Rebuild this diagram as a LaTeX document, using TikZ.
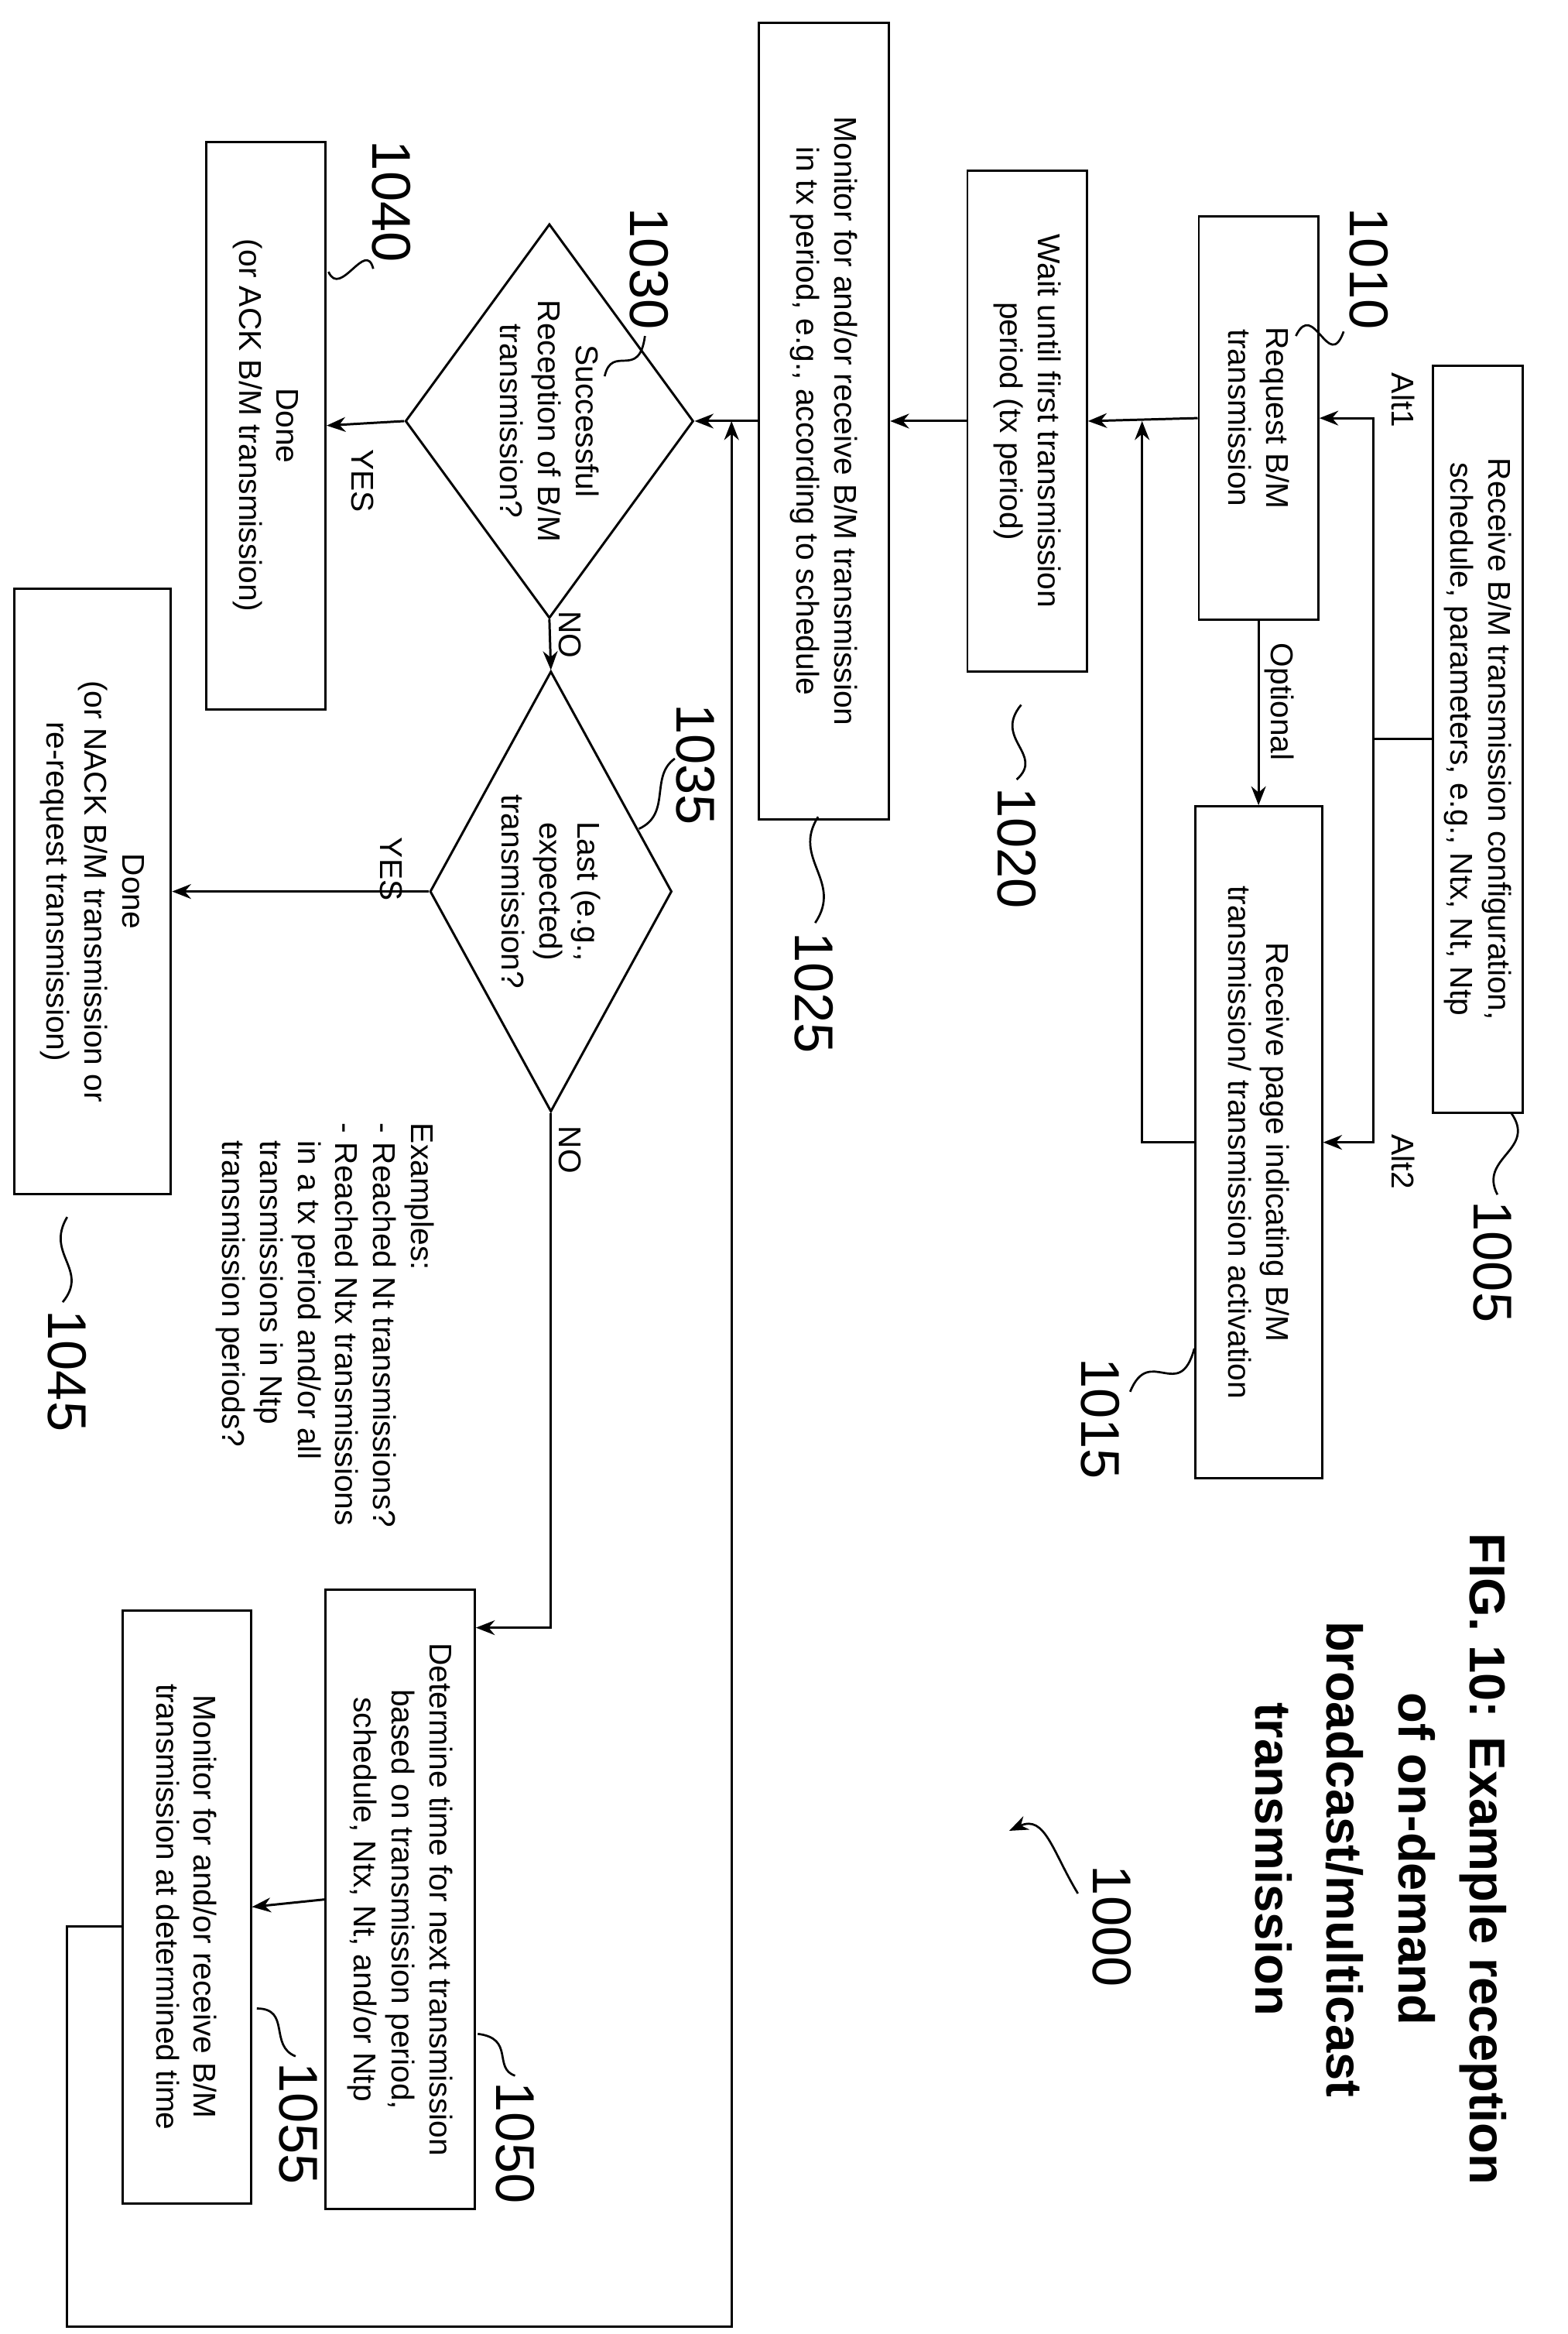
\documentclass[tikz,border=0pt]{standalone}
\usepackage{fontspec}
\setmainfont{Liberation Sans}
\usetikzlibrary{shapes.geometric,arrows.meta}
\begin{document}
\begin{tikzpicture}[x=0.025cm,y=-0.025cm,line width=1.1pt,
  >={Stealth[length=9pt,width=7pt]},
  bx/.style 2 args={draw, rotate=-90, minimum width=#1*0.025cm, minimum height=#2*0.025cm, align=center, inner sep=2pt, font=\fontsize{15}{18}\selectfont},
  dm/.style 2 args={draw, diamond, rotate=-90, minimum width=#1*0.025cm, minimum height=#2*0.025cm, inner sep=0pt},
  txt/.style={rotate=-90, align=center, inner sep=1pt, font=\fontsize{15}{18}\selectfont},
  ref/.style={rotate=-90, inner sep=1pt, font=\fontsize{26}{30}\selectfont},
  lead/.style={line width=1pt}]
\useasboundingbox (0,0) rectangle (1050,1563);
% boxes
\node[bx={500}{60}] (n1005) at (990,495) {Receive B/M transmission configuration,\\schedule, parameters, e.g., Ntx, Nt, Ntp};
\node[bx={270}{80}] (n1010) at (843,280) {Request B/M\\transmission};
\node[bx={450}{85}] (n1015) at (843,765) {Receive page indicating B/M\\transmission/ transmission activation};
\node[bx={335}{80}] (n1020) at (688,282) {Wait until first transmission\\period (tx period)};
\node[bx={533}{87}] (n1025) at (552,282) {Monitor for and/or receive B/M transmission\\in tx period, e.g., according to schedule};
\node[dm={264}{193}] (d1030) at (368,282) {};
\node[txt] at (d1030.center) {Successful\\Reception of B/M\\transmission?};
\node[bx={380}{80}] (n1040) at (178,285) {Done\\(or ACK B/M transmission)};
\node[dm={295}{162}] (d1035) at (369,597) {};
\node[txt] at (d1035.center) {Last (e.g.,\\expected)\\transmission?};
\node[txt, align=left, anchor=north west] (ex) at (293,750) {Examples:\\- Reached Nt transmissions?\\- Reached Ntx transmissions\\\ \ in a tx period and/or all\\\ \ transmissions in Ntp\\\ \ transmission periods?};
\node[bx={405}{105}] (n1045) at (62,597) {Done\\(or NACK B/M transmission or\\re-request transmission)};
\node[bx={415}{100}] (n1050) at (268,1272) {Determine time for next transmission\\based on transmission period,\\schedule, Ntx, Nt, and/or Ntp};
\node[bx={397}{86}] (n1055) at (125,1277) {Monitor for and/or receive B/M\\transmission at determined time};
% title
\node[rotate=-90, align=center, font=\fontsize{24}{34}\bfseries\selectfont] (title) at (925,1245) {FIG. 10: Example reception\\of on-demand\\broadcast/multicast\\transmission};
% connectors
\coordinate (j) at (920,495);
\draw (n1005.south) -- (j);
\draw[->] (j) |- (n1010.north);
\draw[->] (j) |- (n1015.north);
\node[txt] at (940,268) {Alt1};
\node[txt] at (940,778) {Alt2};
\draw[->] (n1010.east) -- (n1015.west);
\node[txt] at (857,470) {Optional};
\coordinate (m1) at (765,765);
\coordinate (m2) at (765,282);
\draw[->] (n1015.south) -- (m1) -- (m2);
\draw[->] (n1010.south) -- (n1020.north);
\draw[->] (n1020.south) -- (n1025.north);
\draw[->] (n1025.south) -- (d1030.north);
\draw[->] (d1030.south) -- (n1040.north);
\node[txt] at (243,322) {YES};
\draw[->] (d1030.east) -- (d1035.west);
\node[txt] at (382,425) {NO};
\draw[->] (d1035.south) -- (n1045.north);
\node[txt] at (262,582) {YES};
\coordinate (c1) at (369,1090);
\draw[->] (d1035.east) -- (c1) -- (n1050.north |- c1);
\node[txt] at (382,770) {NO};
\draw[->] (n1050.south) -- (n1055.north);
\coordinate (k1) at (45,1290);
\coordinate (k2) at (45,1558);
\coordinate (k3) at (490,1558);
\coordinate (k4) at (490,282);
\draw[->] (n1055.south |- k1) -- (k1) -- (k2) -- (k3) -- (k4);
% reference labels
\node[ref] (r1000) at (745,1290) {1000};
\draw[lead,->] (722,1268) .. controls (705,1240) and (700,1215) .. (676,1226);
\node[ref] (r1005) at (1000,845) {1005};
\draw[lead] (1012,745) .. controls (1030,770) and (990,775) .. (1003,800);
\node[ref] (r1010) at (917,180) {1010};
\draw[lead] (900,222) .. controls (890,250) and (880,200) .. (868,225);
\node[ref] (r1015) at (737,950) {1015};
\draw[lead] (800,903) .. controls (790,940) and (770,900) .. (757,932);
\node[ref] (r1020) at (681,568) {1020};
\draw[lead] (684,472) .. controls (665,495) and (700,505) .. (681,522);
\node[ref] (r1025) at (545,665) {1025};
\draw[lead] (548,547) .. controls (530,575) and (565,590) .. (546,618);
\node[ref] (r1030) at (435,180) {1030};
\draw[lead] (432,225) .. controls (428,255) and (410,230) .. (405,252);
\node[ref] (r1035) at (466,512) {1035};
\draw[lead] (452,508) .. controls (435,520) and (450,545) .. (428,555);
\node[ref] (r1040) at (262,135) {1040};
\draw[lead] (250,180) .. controls (245,160) and (228,200) .. (220,182);
\node[ref] (r1045) at (45,918) {1045};
\draw[lead] (45,815) .. controls (30,840) and (60,850) .. (42,872);
\node[ref] (r1050) at (345,1435) {1050};
\draw[lead] (320,1362) .. controls (345,1365) and (330,1385) .. (345,1390);
\node[ref] (r1055) at (200,1422) {1055};
\draw[lead] (172,1345) .. controls (195,1345) and (180,1370) .. (198,1377);
\end{tikzpicture}
\end{document}
